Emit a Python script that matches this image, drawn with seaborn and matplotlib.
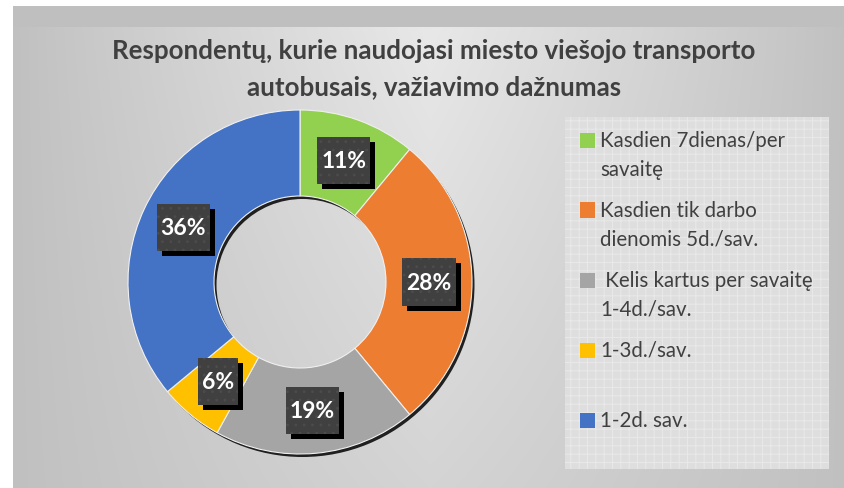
import numpy as np
import matplotlib
matplotlib.use("Agg")
import matplotlib.pyplot as plt
import seaborn as sns
from matplotlib.patches import Rectangle, Wedge

# ---------------- data ----------------
categories = ["Kasdien 7dienas/per\nsavaitę",
              "Kasdien tik darbo\ndienomis 5d./sav.",
              " Kelis kartus per savaitę\n1-4d./sav.",
              "1-3d./sav.",
              "1-2d. sav."]
shares = [11, 28, 19, 6, 36]
pct_labels = ["11%", "28%", "19%", "6%", "36%"]
colors = ["#92D050", "#ED7D31", "#A5A5A5", "#FFC000", "#4472C4"]
title_lines = ["Respondentų, kurie naudojasi miesto viešojo transporto",
               "autobusais, važiavimo dažnumas"]

sns.set_theme(style="white")
plt.rcParams['font.family'] = ['Lato', 'DejaVu Sans']
plt.rcParams['hatch.linewidth'] = 0.8

W, H = 844, 489
fig = plt.figure(figsize=(W / 100, H / 100), dpi=100)
fig.patch.set_facecolor('white')

# ---------------- background ----------------
yy, xx = np.mgrid[0:H, 0:W]
hgrad = np.clip(1 - np.abs(xx - 430) / 417, 0, 1) ** 0.9
v = 192 + 40 * hgrad * (1 - 0.5 * np.clip((yy - 28) / 461, 0, 1))
v[(yy >= 7) & (yy < 28)] = 191
img = np.repeat(v[..., None], 3, axis=2) / 255.0
img[(xx < 13) | (yy < 7)] = 1.0
bg = fig.add_axes([0, 0, 1, 1], zorder=0)
bg.imshow(img, aspect='auto', interpolation='nearest')
bg.set_axis_off()

# ---------------- donut ----------------
cx, cy, R = 300, 283, 172
half = 190
ax = fig.add_axes([(cx - half) / W, (H - cy - half) / H, 2 * half / W, 2 * half / H], zorder=2)
ax.patch.set_alpha(0)
ring_w = 0.5
sh = Wedge((2.5 / R, -3 / R), 1.0, 0, 360, width=ring_w, facecolor='black', edgecolor='none', alpha=0.85)
ax.add_patch(sh)
wedges, _ = ax.pie(shares, colors=colors, startangle=90, counterclock=False, radius=1.0,
                   wedgeprops=dict(width=ring_w, edgecolor='#f0f0f0', linewidth=0.8))
ax.set_xlim(-half / R, half / R)
ax.set_ylim(-half / R, half / R)
ax.set_aspect('equal')
ax.set_axis_off()

fig.canvas.draw()
renderer = fig.canvas.get_renderer()
r_lab = 0.75
box_h = 47 / R
for w, lab in zip(wedges, pct_labels):
    th = np.deg2rad((w.theta1 + w.theta2) / 2)
    x, y = r_lab * np.cos(th), r_lab * np.sin(th)
    t = ax.text(x, y, lab, ha='center', va='center', color='white', fontweight='bold',
                fontsize=16.5, zorder=6)
    bb = t.get_window_extent(renderer)
    bw = (bb.width + 8) / R
    ax.add_patch(Rectangle((x - bw / 2 + 5 / R, y - box_h / 2 - 5 / R), bw, box_h,
                           facecolor='black', edgecolor='none', zorder=4))
    ax.add_patch(Rectangle((x - bw / 2, y - box_h / 2), bw, box_h,
                           facecolor='#404040', edgecolor='#4c4c4c', linewidth=0,
                           hatch='..', zorder=5))

# ---------------- title ----------------
for j, line in enumerate(title_lines):
    fig.text(434 / W, 1 - (51 + 36 * j) / H, line, ha='center', va='center',
             fontsize=18.6, fontweight='bold', color='#404040', zorder=3)

# ---------------- legend ----------------
lx0, lx1, ly0, ly1 = 565, 829, 118, 470
fig.add_artist(Rectangle((lx0 / W, 1 - ly1 / H), (lx1 - lx0) / W, (ly1 - ly0) / H,
                         transform=fig.transFigure, facecolor='#dedede',
                         edgecolor='#e8e8e8', linewidth=0, hatch='++', zorder=1))
for i, (lab, col) in enumerate(zip(categories, colors)):
    yc = 141 + 70 * i
    fig.add_artist(Rectangle((580 / W, 1 - (yc + 7.5) / H), 15 / W, 15 / H,
                             transform=fig.transFigure, facecolor=col,
                             edgecolor='none', zorder=3))
    for j, line in enumerate(lab.split('\n')):
        fig.text(600 / W, 1 - (yc + 29 * j) / H, line, ha='left', va='center',
                 fontsize=14.8, color='#404040', zorder=3)

fig.savefig('out.png', dpi=100)
